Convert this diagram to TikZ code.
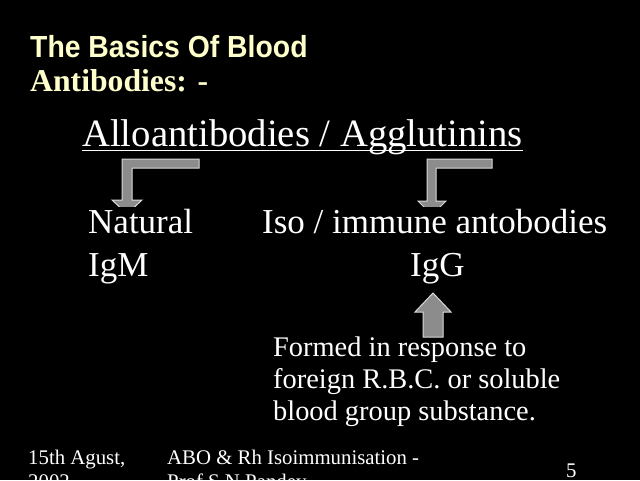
\documentclass[tikz,border=0pt]{standalone}
\usepackage{fontspec}
\setmainfont{Liberation Serif}
\newfontfamily\headfont{Liberation Sans}
\definecolor{paleyellow}{HTML}{FFFFCC}
\definecolor{arrowgray}{HTML}{8C8C8C}
\newcommand{\fsz}[1]{\fontsize{#1}{#1}\selectfont}

\begin{document}
\begin{tikzpicture}[x=1pt,y=-1pt,
    txt/.style={inner sep=0pt, anchor=base west, text=white},
    cover/.style={txt, fill=black, text height=26pt},
    blockarrow/.style={fill=arrowgray, draw=white!85!black, line width=1pt, line join=miter}]
  \fill[black] (0,0) rectangle (640,480);
  \useasboundingbox (0,0) rectangle (640,480);

  % bent arrows under the header
  \draw[blockarrow] (199,159) -- (122,159) -- (122,200) -- (112,200) -- (127,214)
                    -- (142,200) -- (132,200) -- (132,168) -- (199,168) -- cycle;
  \draw[blockarrow] (492,159) -- (427,159) -- (427,201) -- (418,201) -- (432,215)
                    -- (446,201) -- (436,201) -- (436,168) -- (492,168) -- cycle;
  % up arrow
  \draw[blockarrow] (433,293) -- (451,312) -- (443,312) -- (443,337) -- (423,337)
                    -- (423,312) -- (415,312) -- cycle;

  \node[txt, text=paleyellow] (title) at (30,57)
       {\scalebox{0.93}[1]{\headfont\bfseries\fsz{30.5}The Basics Of Blood}};
  \node[txt, text=paleyellow] (anti) at (30,91) {\bfseries\fsz{31.7}Antibodies: -};

  \node[txt] (allo) at (82,146) {\fsz{38.7}Alloantibodies / Agglutinins};
  \draw[white, line width=1.6pt] ([yshift=-4.5pt]allo.base west) -- ([yshift=-4.5pt]allo.base east);

  \node[cover] (natural) at (88,233) {\fsz{35}Natural};
  \node[cover] (iso)     at (262,233) {\fsz{35}Iso / immune antobodies};
  \node[txt]   (igm)     at (88,276) {\fsz{35}IgM};
  \node[txt]   (igg)     at (410,276) {\fsz{35}IgG};

  \node[txt] (formed1) at (273,356) {\fsz{28.4}Formed in response to};
  \node[txt] (formed2) at (273,388) {\fsz{28.4}foreign R.B.C. or soluble};
  \node[txt] (formed3) at (273,420) {\fsz{28.4}blood group substance.};

  % footer
  \node[txt] (date1) at (28,464) {\fsz{20.8}15th Agust,};
  \node[txt] (date2) at (28,488) {\fsz{20.8}2002};
  \node[txt] (foot1) at (167,464) {\fsz{20.8}ABO \& Rh Isoimmunisation -};
  \node[txt] (foot2) at (167,488) {\fsz{20.8}Prof S N Pandey};
  \node[txt] (num)   at (566,477) {\fsz{20.8}5};
\end{tikzpicture}
\end{document}
